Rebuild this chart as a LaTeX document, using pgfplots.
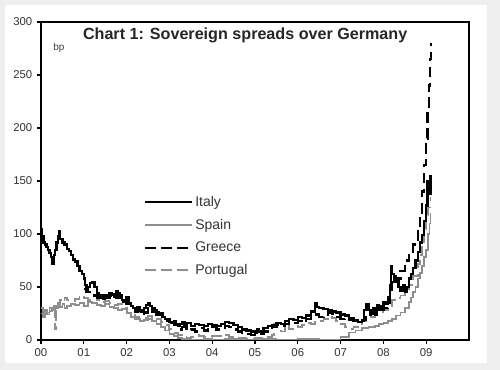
\documentclass[border=0pt]{standalone}
\usepackage{pgfplots}
\pgfplotsset{compat=1.18}
\usepackage{fontspec}
\setmainfont{Liberation Sans}
\definecolor{lgray}{HTML}{8E8E8E}
\definecolor{bggray}{HTML}{EFEFEF}
\begin{document}
\begin{tikzpicture}
\fill[bggray] (-30.75pt,-22.5pt) rectangle (344.25pt,255pt);
\fill[white] (-27pt,-17.25pt) rectangle (334.5pt,251.25pt);
\begin{axis}[
  scale only axis, width=321pt, height=238.5pt,
  xmin=0, xmax=10, ymin=0, ymax=300,
  xtick={0,1,2,3,4,5,6,7,8,9},
  xticklabels={00,01,02,03,04,05,06,07,08,09},
  ytick={0,50,100,150,200,250,300},
  xtick pos=left, ytick pos=left, tick align=outside,
  major tick length=3pt,
  axis line style={line width=0.9pt},
  every tick/.style={black, line width=0.9pt},
  /pgf/number format/assume math mode=true,
  tick label style={font=\fontsize{8.5}{10}\selectfont, text=black!80},
  legend style={at={(0.23,0.47)}, anchor=north west, draw=none, fill=none,
    font=\fontsize{10.5}{12}\selectfont, text=black!80, row sep=4pt,
    cells={anchor=west}},
  legend image code/.code={\draw[#1] (0pt,0pt) -- (35pt,0pt);},
]
\addlegendimage{black, line width=1.7pt}\addlegendentry{Italy}
\addlegendimage{lgray, line width=1.3pt}\addlegendentry{Spain}
\addlegendimage{black, line width=1.7pt, dash pattern=on 8pt off 4pt}\addlegendentry{Greece}
\addlegendimage{lgray, line width=1.4pt, dash pattern=on 8pt off 4pt}\addlegendentry{Portugal}

% Spain
\addplot[forget plot, lgray, line width=1.3pt, const plot] coordinates {
(0.00,25)(0.05,22)(0.10,28)(0.15,26)(0.20,30)(0.25,28)(0.30,32)(0.35,30)(0.40,33)(0.45,31)
(0.50,34)(0.55,30)(0.60,32)(0.70,34)(0.80,33)(0.90,35)(1.00,32)(1.10,36)(1.20,35)(1.30,33)
(1.40,32)(1.50,34)(1.60,31)(1.70,30)(1.80,28)(1.90,29)(2.00,25)(2.10,22)(2.20,20)(2.30,18)
(2.40,19)(2.50,20)(2.60,18)(2.70,15)(2.80,12)(2.90,9)(3.00,6)(3.10,4)(3.20,2)(3.30,1)
(3.50,0)(3.80,1)(4.00,0)(4.30,1)(4.60,0)(5.00,1)(5.50,0)(6.00,1)(6.50,0)(7.00,3)
(7.20,7)(7.35,9)(7.50,11)(7.65,12)(7.80,13)(7.90,15)(8.00,16)(8.10,18)(8.20,20)(8.30,23)
(8.40,26)(8.50,30)(8.60,36)(8.65,40)(8.70,45)(8.75,50)(8.80,58)(8.85,63)(8.90,70)(8.95,78)
(9.00,85)(9.05,100)(9.08,110)(9.10,120)
};
% Portugal
\addplot[forget plot, lgray, line width=1.4pt, dash pattern=on 8pt off 4pt, const plot] coordinates {
(0.00,30)(0.05,25)(0.10,28)(0.15,24)(0.20,27)(0.25,30)(0.30,28)(0.33,10)(0.35,32)(0.40,35)
(0.45,38)(0.50,36)(0.55,40)(0.60,38)(0.70,37)(0.80,39)(0.90,42)(1.00,40)(1.10,38)(1.20,41)
(1.30,38)(1.40,36)(1.50,37)(1.60,35)(1.70,33)(1.80,34)(1.90,30)(2.00,26)(2.10,24)(2.20,22)
(2.30,20)(2.40,21)(2.50,23)(2.60,22)(2.70,20)(2.80,17)(2.90,14)(3.00,10)(3.10,7)(3.20,5)
(3.30,3)(3.40,2)(3.50,3)(3.60,5)(3.70,4)(3.80,3)(4.00,4)(4.20,5)(4.40,3)(4.60,2)
(4.80,1)(5.00,2)(5.20,3)(5.40,5)(5.45,15)(5.50,12)(5.60,8)(5.70,14)(5.80,10)(5.90,13)
(6.00,12)(6.10,14)(6.20,16)(6.30,15)(6.40,17)(6.50,18)(6.60,20)(6.70,22)(6.80,21)(6.90,18)
(7.00,15)(7.10,12)(7.20,10)(7.30,12)(7.40,14)(7.50,18)(7.60,20)(7.70,22)(7.80,25)(7.90,26)
(8.00,28)(8.10,32)(8.20,38)(8.30,40)(8.40,42)(8.50,48)(8.60,52)(8.70,60)(8.80,72)(8.85,80)
(8.90,90)(8.95,105)(9.00,118)(9.05,125)(9.10,135)
};
% Greece
\addplot[forget plot, black, line width=1.7pt, dash pattern=on 8pt off 4pt, const plot] coordinates {
(1.00,48)(1.10,45)(1.20,42)(1.30,40)(1.40,38)(1.50,40)(1.60,42)(1.70,40)(1.80,42)(1.90,36)
(2.00,34)(2.10,30)(2.20,27)(2.30,25)(2.40,26)(2.50,30)(2.60,27)(2.70,24)(2.80,22)(2.90,20)
(3.00,18)(3.10,14)(3.20,10)(3.30,12)(3.40,9)(3.50,10)(3.60,8)(3.70,11)(3.80,9)(3.90,10)
(4.00,12)(4.10,10)(4.20,11)(4.30,13)(4.40,12)(4.50,10)(4.60,8)(4.70,7)(4.80,6)(4.90,5)
(5.00,5)(5.10,6)(5.20,8)(5.30,10)(5.40,12)(5.50,14)(5.60,13)(5.70,15)(5.80,17)(5.90,16)
(6.00,18)(6.10,17)(6.20,20)(6.30,22)(6.40,24)(6.50,22)(6.60,24)(6.70,26)(6.80,25)(6.90,22)
(7.00,20)(7.10,21)(7.20,19)(7.30,18)(7.40,17)(7.50,19)(7.60,22)(7.70,25)(7.80,24)(7.90,28)
(8.00,30)(8.10,35)(8.15,45)(8.20,55)(8.25,60)(8.30,58)(8.40,65)(8.50,70)(8.55,75)(8.60,80)
(8.70,90)(8.80,105)(8.85,120)(8.90,140)(8.95,165)(9.00,190)(9.03,215)(9.06,240)(9.09,265)(9.11,280)
};
% Italy
\addplot[forget plot, black, line width=1.7pt, const plot] coordinates {
(0.00,105)(0.03,98)(0.06,92)(0.10,90)(0.13,88)(0.16,85)(0.20,82)(0.23,78)(0.27,72)(0.30,80)
(0.33,85)(0.36,92)(0.40,98)(0.42,103)(0.45,95)(0.50,92)(0.55,90)(0.60,86)(0.65,84)(0.70,80)
(0.75,76)(0.80,74)(0.85,70)(0.90,65)(0.95,62)(1.00,58)(1.03,52)(1.06,45)(1.10,50)(1.15,54)
(1.20,55)(1.25,50)(1.30,44)(1.35,40)(1.40,42)(1.45,39)(1.50,42)(1.55,40)(1.60,44)(1.65,43)
(1.70,41)(1.75,46)(1.80,44)(1.85,40)(1.90,38)(1.95,36)(2.00,40)(2.05,35)(2.10,32)(2.15,30)
(2.20,28)(2.25,31)(2.30,28)(2.35,27)(2.40,30)(2.45,33)(2.50,35)(2.55,32)(2.60,30)(2.65,28)
(2.70,26)(2.75,24)(2.80,25)(2.85,22)(2.90,20)(2.95,18)(3.00,17)(3.05,16)(3.10,18)(3.15,15)
(3.20,13)(3.25,15)(3.30,17)(3.35,14)(3.40,16)(3.50,13)(3.60,15)(3.70,14)(3.80,13)(3.90,15)
(4.00,14)(4.10,13)(4.20,15)(4.30,17)(4.40,16)(4.50,14)(4.60,12)(4.70,10)(4.80,9)(4.90,8)
(5.00,7)(5.05,10)(5.10,8)(5.20,11)(5.30,13)(5.40,14)(5.50,16)(5.60,15)(5.70,18)(5.80,20)
(5.90,19)(6.00,22)(6.10,21)(6.20,23)(6.30,27)(6.40,35)(6.45,31)(6.50,30)(6.60,29)(6.70,28)
(6.80,27)(6.90,26)(7.00,24)(7.10,23)(7.20,21)(7.30,19)(7.40,17)(7.50,18)(7.55,28)(7.60,34)
(7.65,28)(7.70,25)(7.75,30)(7.80,27)(7.85,33)(7.90,28)(7.95,32)(8.00,36)(8.05,34)(8.10,40)
(8.15,52)(8.18,70)(8.20,62)(8.25,55)(8.30,56)(8.35,50)(8.40,46)(8.45,52)(8.50,45)(8.55,50)
(8.60,58)(8.65,62)(8.70,68)(8.75,75)(8.80,83)(8.85,92)(8.90,99)(8.95,112)(9.00,127)(9.03,150)
(9.06,138)(9.10,155)(9.12,148)
};
\node[font=\bfseries\fontsize{12.1}{14}\selectfont, text=black!85] at (axis description cs:0.477,0.958) {Chart 1: Sovereign spreads over Germany};
\node[font=\fontsize{7.5}{9}\selectfont, text=black!75, anchor=west] at (axis description cs:0.018,0.918) {bp};
\end{axis}
\end{tikzpicture}
\end{document}
